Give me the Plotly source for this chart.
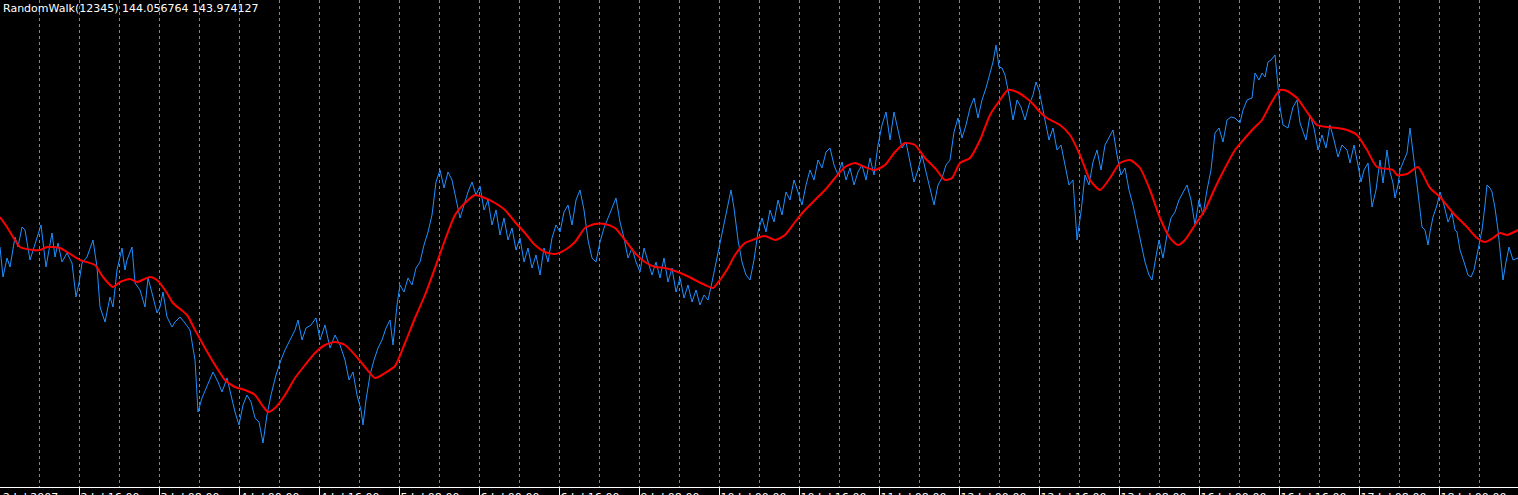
import plotly.graph_objects as go

# Random walk (bar position, level in points)
walk_x = [0, 3, 7, 10, 15, 18, 22, 25, 30, 35, 38, 41, 46, 52, 55, 58, 62, 67, 72, 76, 79, 82, 87, 93, 97,
          100, 105, 110, 113, 117, 122, 125, 127, 132, 135, 140, 145, 148, 152, 157, 160, 163, 167, 172, 175,
          180, 185, 190, 195, 198, 202, 206, 210, 213, 218, 222, 227, 231, 235, 239, 243, 247, 251, 255, 259,
          263, 267, 271, 276, 281, 285, 290, 295, 298, 302, 306, 311, 316, 320, 325, 330, 335, 340, 345, 349,
          353, 357, 361, 363, 366, 370, 374, 378, 382, 386, 390, 393, 397, 400, 404, 408, 412, 416, 420, 424,
          428, 432, 436, 440, 444, 448, 452, 456, 460, 464, 468, 472, 476, 480, 484, 488, 492, 496, 500, 504,
          508, 512, 516, 520, 524, 528, 532, 536, 540, 544, 548, 552, 556, 560, 564, 568, 572, 576, 580, 584,
          588, 592, 596, 600, 604, 608, 612, 616, 620, 624, 628, 632, 636, 640, 644, 648, 652, 656, 660, 664,
          668, 672, 676, 680, 684, 688, 692, 696, 700, 704, 708, 712, 716, 720, 724, 728, 731, 734, 738, 742,
          746, 750, 754, 758, 762, 766, 770, 774, 778, 782, 786, 790, 794, 798, 802, 806, 810, 814, 818, 822,
          826, 830, 834, 838, 842, 846, 850, 854, 858, 862, 866, 870, 874, 878, 882, 886, 890, 894, 898, 902,
          906, 910, 914, 918, 922, 926, 930, 934, 938, 942, 946, 950, 954, 958, 962, 966, 970, 974, 978, 982,
          986, 990, 993, 996, 999, 1002, 1005, 1009, 1013, 1017, 1021, 1025, 1029, 1033, 1036, 1039, 1041, 1045,
          1049, 1053, 1057, 1061, 1065, 1069, 1073, 1077, 1081, 1085, 1089, 1093, 1097, 1101, 1105, 1109, 1113,
          1117, 1121, 1125, 1129, 1133, 1137, 1141, 1145, 1149, 1152, 1155, 1159, 1163, 1167, 1171, 1175, 1179,
          1183, 1187, 1191, 1195, 1199, 1203, 1207, 1211, 1215, 1219, 1223, 1227, 1231, 1235, 1240, 1243, 1247,
          1252, 1255, 1259, 1262, 1265, 1268, 1271, 1275, 1278, 1280, 1283, 1288, 1293, 1297, 1300, 1306, 1310,
          1314, 1318, 1322, 1326, 1330, 1334, 1338, 1342, 1347, 1350, 1354, 1358, 1361, 1364, 1368, 1372, 1376,
          1380, 1383, 1387, 1390, 1393, 1395, 1398, 1400, 1404, 1407, 1410, 1413, 1416, 1418, 1422, 1425, 1428,
          1430, 1433, 1437, 1440, 1444, 1448, 1452, 1455, 1457, 1460, 1464, 1468, 1471, 1474, 1478, 1482, 1485,
          1487, 1490, 1492, 1495, 1498, 1501, 1503, 1506, 1509, 1513, 1518]
walk_y = [253, 223, 242, 233, 263, 253, 273, 270, 240, 257, 267, 275, 233, 267, 243, 257, 238, 247, 237, 203,
          217, 237, 243, 260, 233, 193, 178, 203, 193, 230, 252, 230, 240, 253, 217, 210, 193, 222, 207, 187,
          193, 208, 183, 173, 178, 183, 177, 170, 140, 88, 102, 112, 120, 128, 118, 108, 122, 105, 88, 75,
          95, 105, 98, 82, 78, 57, 85, 105, 125, 140, 150, 160, 170, 180, 160, 172, 175, 182, 160, 175,
          152, 165, 155, 140, 120, 128, 105, 90, 75, 100, 125, 140, 152, 160, 172, 180, 155, 195, 215, 208,
          222, 215, 232, 238, 255, 268, 285, 318, 330, 312, 328, 320, 302, 282, 295, 308, 318, 305, 314, 290,
          300, 275, 290, 265, 282, 260, 272, 250, 262, 238, 252, 232, 245, 225, 252, 238, 262, 275, 268, 288,
          295, 275, 300, 310, 290, 260, 242, 238, 258, 272, 282, 292, 302, 278, 262, 242, 252, 238, 228, 252,
          238, 225, 238, 222, 242, 218, 232, 208, 222, 202, 215, 198, 210, 195, 205, 200, 218, 238, 255, 278,
          295, 310, 292, 260, 238, 225, 220, 240, 268, 282, 268, 290, 278, 300, 285, 308, 300, 320, 308, 295,
          315, 330, 320, 340, 332, 348, 352, 335, 325, 338, 320, 332, 315, 328, 335, 320, 342, 325, 355, 375,
          388, 360, 388, 370, 352, 358, 338, 318, 330, 345, 328, 310, 295, 315, 322, 335, 340, 368, 382, 362,
          375, 392, 402, 382, 400, 412, 428, 438, 455, 433, 432, 425, 405, 380, 400, 393, 380, 395, 405, 418,
          410, 400, 378, 360, 372, 350, 355, 335, 315, 320, 260, 288, 325, 315, 338, 350, 330, 355, 362, 370,
          345, 325, 332, 310, 295, 275, 255, 238, 225, 220, 238, 260, 242, 265, 282, 288, 300, 308, 315, 300,
          275, 300, 285, 310, 330, 367, 372, 358, 380, 383, 382, 377, 390, 400, 402, 427, 420, 427, 423, 438,
          440, 445, 413, 393, 375, 372, 393, 400, 377, 360, 385, 372, 350, 365, 352, 375, 360, 343, 355, 350,
          337, 355, 335, 318, 330, 337, 293, 310, 340, 317, 350, 328, 317, 302, 315, 330, 340, 347, 372, 350,
          323, 307, 273, 270, 255, 268, 283, 295, 308, 295, 278, 287, 270, 268, 250, 238, 225, 223, 230, 250,
          270, 295, 315, 312, 308, 292, 270, 240, 220, 238, 253, 240, 242]

# Moving average
ma_x = [0, 7, 13, 20, 33, 40, 47, 60, 67, 80, 95, 103, 113, 120, 130, 137, 150, 157, 167, 173, 187, 195,
        205, 215, 225, 235, 245, 255, 262, 268, 275, 285, 295, 305, 315, 325, 335, 345, 355, 365, 375, 385,
        395, 405, 415, 425, 435, 445, 455, 465, 475, 485, 495, 505, 515, 525, 535, 545, 555, 565, 575, 585,
        595, 605, 615, 625, 635, 645, 655, 665, 675, 685, 695, 705, 713, 720, 728, 735, 745, 755, 765, 775,
        785, 795, 805, 815, 825, 835, 845, 855, 865, 875, 885, 895, 905, 915, 925, 935, 945, 952, 960, 970,
        980, 990, 1000, 1008, 1017, 1025, 1032, 1040, 1047, 1060, 1070, 1080, 1090, 1100, 1110, 1120, 1130,
        1140, 1150, 1160, 1170, 1178, 1185, 1195, 1205, 1215, 1225, 1235, 1245, 1255, 1262, 1270, 1280, 1287,
        1297, 1307, 1317, 1327, 1337, 1347, 1357, 1367, 1377, 1393, 1397, 1407, 1418, 1430, 1440, 1453, 1467,
        1477, 1485, 1493, 1500, 1507, 1518]
ma_y = [283, 273, 263, 253, 250, 250, 253, 252, 248, 240, 235, 223, 213, 218, 221, 218, 223, 220, 207, 197,
        185, 170, 152, 135, 120, 113, 110, 105, 95, 88, 92, 105, 122, 135, 147, 155, 158, 155, 145, 133,
        122, 127, 134, 157, 182, 205, 232, 260, 285, 297, 305, 302, 297, 290, 278, 267, 255, 248, 246, 250,
        258, 272, 276, 276, 272, 260, 247, 238, 233, 232, 229, 225, 220, 215, 212, 220, 232, 245, 257, 261,
        264, 260, 265, 278, 290, 300, 310, 322, 333, 337, 333, 330, 335, 348, 357, 355, 342, 332, 320, 322,
        337, 342, 360, 385, 400, 410, 408, 403, 397, 388, 382, 375, 365, 345, 320, 310, 322, 337, 340, 332,
        310, 282, 262, 255, 260, 275, 290, 312, 332, 350, 362, 373, 380, 395, 410, 409, 402, 388, 375, 373,
        372, 370, 365, 350, 333, 330, 325, 326, 333, 312, 303, 287, 273, 262, 258, 262, 267, 265, 270]

# Time axis labels
tick_pos = [79.5, 159.5, 239.5, 319.5, 399.5, 479.5, 559.5, 639.5, 719.5, 799.5, 879.5, 959.5,
            1039.5, 1119.5, 1199.5, 1279.5, 1359.5, 1439.5]
tick_text = ["2 Jul 16:00", "3 Jul 08:00", "4 Jul 00:00", "4 Jul 16:00", "5 Jul 08:00", "6 Jul 00:00",
             "6 Jul 16:00", "9 Jul 08:00", "10 Jul 00:00", "10 Jul 16:00", "11 Jul 08:00", "12 Jul 00:00",
             "12 Jul 16:00", "13 Jul 08:00", "16 Jul 00:00", "16 Jul 16:00", "17 Jul 08:00", "18 Jul 00:00"]
first_label = "2 Jul 2007"

GRID = "#778899"
FONT = "DejaVu Sans"

fig = go.Figure()
fig.add_trace(go.Scatter(x=walk_x, y=walk_y, mode="lines",
                         line=dict(color="#1E90FF", width=1), hoverinfo="skip"))
fig.add_trace(go.Scatter(x=ma_x, y=ma_y, mode="lines",
                         line=dict(color="#FF0000", width=2, shape="spline", smoothing=0.6),
                         hoverinfo="skip"))

fig.update_layout(
    width=1518, height=495,
    margin=dict(l=0, r=0, t=0, b=8),
    paper_bgcolor="black", plot_bgcolor="black",
    showlegend=False,
    font=dict(family=FONT, size=11, color="white"),
    annotations=[
        dict(text="RandomWalk(12345) 144.056764 143.974127", xref="paper", yref="paper",
             x=0, y=1, xanchor="left", yanchor="top", showarrow=False, xshift=1, yshift=0,
             font=dict(family=FONT, size=11, color="white")),
        dict(text=first_label, xref="paper", yref="paper", x=0, y=0, xanchor="left",
             yanchor="top", showarrow=False, xshift=1, yshift=-2,
             font=dict(family=FONT, size=11, color="white")),
    ],
)

fig.update_xaxes(
    range=[0, 1518], fixedrange=True, zeroline=False, automargin=False,
    tickmode="array", tickvals=tick_pos, ticktext=tick_text,
    ticks="outside", ticklen=8, tickcolor="white", tickwidth=1,
    ticklabelposition="outside right", ticklabelstandoff=0,
    tickfont=dict(family=FONT, size=11, color="white"),
    showline=True, linecolor="white", linewidth=1,
    showgrid=True, gridcolor=GRID, gridwidth=1, griddash="3px,3px",
    minor=dict(tickmode="linear", tick0=39.5, dtick=40, showgrid=True, gridcolor=GRID,
               gridwidth=1, griddash="3px,3px", ticks=""),
)
fig.update_yaxes(range=[13, 500], fixedrange=True, showgrid=False, zeroline=False,
                 showticklabels=False, ticks="", showline=False, automargin=False)

fig.write_html("out.html", config={"displayModeBar": False},
               post_script="document.body.style.margin='0';document.body.style.overflow='hidden';")
